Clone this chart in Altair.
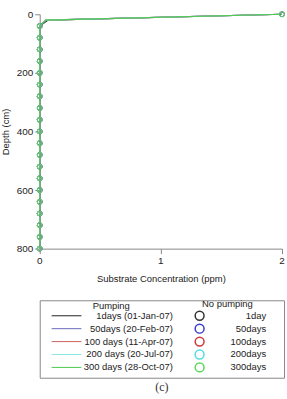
import altair as alt
import pandas as pd

# ---- data ----
depth_line = [0, 20, 40, 80, 120, 160, 200, 240, 280, 320, 360, 400, 440, 480, 520, 560, 600, 640, 680, 720, 760, 800]
conc_line_1day = [2.0, 0.07] + [0.0] * 20
conc_line = [2.0, 0.05] + [0.0] * 20
depth_pts = [0, 40, 80, 120, 160, 200, 240, 280, 320, 360, 400, 440, 480, 520, 560, 600, 640, 680, 720, 760, 800]
conc_pts = [2.0] + [0.0] * 20

pump_labels = ["1days (01-Jan-07)", "50days (20-Feb-07)", "100 days (11-Apr-07)",
               "200 days (20-Jul-07)", "300 days (28-Oct-07)"]
nopump_labels = ["1day", "50days", "100days", "200days", "300days"]
x_ticks = [0, 1, 2]
x_tick_text = ["0", "1", "2"]
y_ticks = [0, 200, 400, 600, 800]
colors = ["#222222", "#6a6ac0", "#d06060", "#8ae8e8", "#50c850"]
marker_colors = ["#333333", "#3a3acc", "#cc3a3a", "#55dddd", "#5ad85a"]

FONT = "Liberation Sans"

# long tables
rows = []
for i, lab in enumerate(pump_labels):
    vals = conc_line_1day if i == 0 else conc_line
    for d, c in zip(depth_line, vals):
        rows.append({"series": lab, "idx": i, "depth": d, "conc": c})
line_df = pd.DataFrame(rows)
rows = []
for i, lab in enumerate(nopump_labels):
    for d, c in zip(depth_pts, conc_pts):
        rows.append({"series": pump_labels[i], "idx": i, "depth": d, "conc": c})
pt_df = pd.DataFrame(rows)
xt_df = pd.DataFrame({"conc": x_ticks, "depth": [800] * len(x_ticks), "t": x_tick_text})

x_enc = alt.X("conc:Q", title="Substrate Concentration (ppm)",
              scale=alt.Scale(domain=[0, 2], nice=False),
              axis=alt.Axis(values=x_ticks, labels=False, grid=False, titlePadding=20))
y_enc = alt.Y("depth:Q", title="Depth (cm)",
              scale=alt.Scale(domain=[0, 800], reverse=True, nice=False),
              axis=alt.Axis(values=y_ticks, format="d", grid=False, titlePadding=6,
                            labelOverlap=False))
cscale = alt.Scale(domain=pump_labels, range=colors)
mscale = alt.Scale(domain=pump_labels, range=marker_colors)

line_layer = alt.Chart(line_df).mark_line(strokeWidth=1.1).encode(
    x=x_enc, y=y_enc, order="depth:Q",
    detail="idx:O",
    color=alt.Color("series:N", scale=cscale, legend=None),
)
pt_layer = alt.Chart(pt_df).mark_point(shape="circle", filled=False, size=24,
                                       strokeWidth=0.8, opacity=1).encode(
    x=x_enc, y=y_enc,
    color=alt.Color("series:N", scale=mscale, legend=None),
    order="idx:Q",
)
xt_layer = alt.Chart(xt_df).mark_text(baseline="top", dy=7, font=FONT, fontSize=10,
                                      color="#222").encode(
    x=x_enc, y=y_enc, text="t:N")

main = alt.layer(line_layer, pt_layer, xt_layer).resolve_scale(color="independent").properties(
    width=244, height=236)

# ---- legend panel ----
leg_df = pd.DataFrame({
    "row": list(range(5)),
    "pump": pump_labels,
    "nopump": nopump_labels,
    "key": pump_labels,
})
yenc = alt.Y("row:Q", scale=alt.Scale(domain=[-1.2, 4.8], reverse=True, nice=False), axis=None)

lines = alt.Chart(leg_df).mark_rule(strokeWidth=1).encode(
    x=alt.value(12), x2=alt.value(42), y=yenc,
    color=alt.Color("key:N", scale=cscale, legend=None))
ptext = alt.Chart(leg_df).mark_text(align="right", baseline="middle", font=FONT, fontSize=9.5,
                                    color="#222").encode(
    x=alt.value(134), y=yenc, text="pump:N")
circ = alt.Chart(leg_df).mark_point(shape="circle", filled=False, size=80, strokeWidth=1.5,
                                    opacity=1).encode(
    x=alt.value(161), y=yenc,
    color=alt.Color("key:N", scale=mscale, legend=None))
ntext = alt.Chart(leg_df).mark_text(align="right", baseline="middle", font=FONT, fontSize=9.5,
                                    color="#222").encode(
    x=alt.value(228), y=yenc, text="nopump:N")
hdr_df = pd.DataFrame({"row": [-0.75, -0.9], "t": ["Pumping", "No pumping"], "xp": [72, 189]})
hdr = alt.Chart(hdr_df).mark_text(align="center", baseline="middle", font=FONT, fontSize=9.5,
                                  color="#222").encode(
    x=alt.X("xp:Q", scale=alt.Scale(domain=[0, 246], nice=False), axis=None),
    y=yenc, text="t:N")

legend = alt.layer(lines, ptext, circ, ntext, hdr).properties(
    width=246, height=78,
    view=alt.ViewBackground(stroke="#888888", strokeWidth=1),
    title=alt.TitleParams("(c)", orient="bottom", font="Liberation Serif", fontSize=12,
                          fontWeight="normal", color="#333", offset=4),
).resolve_scale(x="independent", color="independent")

chart = alt.vconcat(main, legend, spacing=15).properties(
    padding={"left": 0, "top": 8, "right": 0, "bottom": 0},
    background="white",
).configure_view(stroke=None).configure_axis(
    domainColor="#888888", tickColor="#888888", tickSize=5, labelPadding=2,
    labelFont=FONT, labelFontSize=10, labelColor="#222",
    titleFont=FONT, titleFontSize=9.5, titleFontWeight="normal", titleColor="#222",
)

chart.save("out.html", embed_options={"renderer": "svg", "actions": False})
